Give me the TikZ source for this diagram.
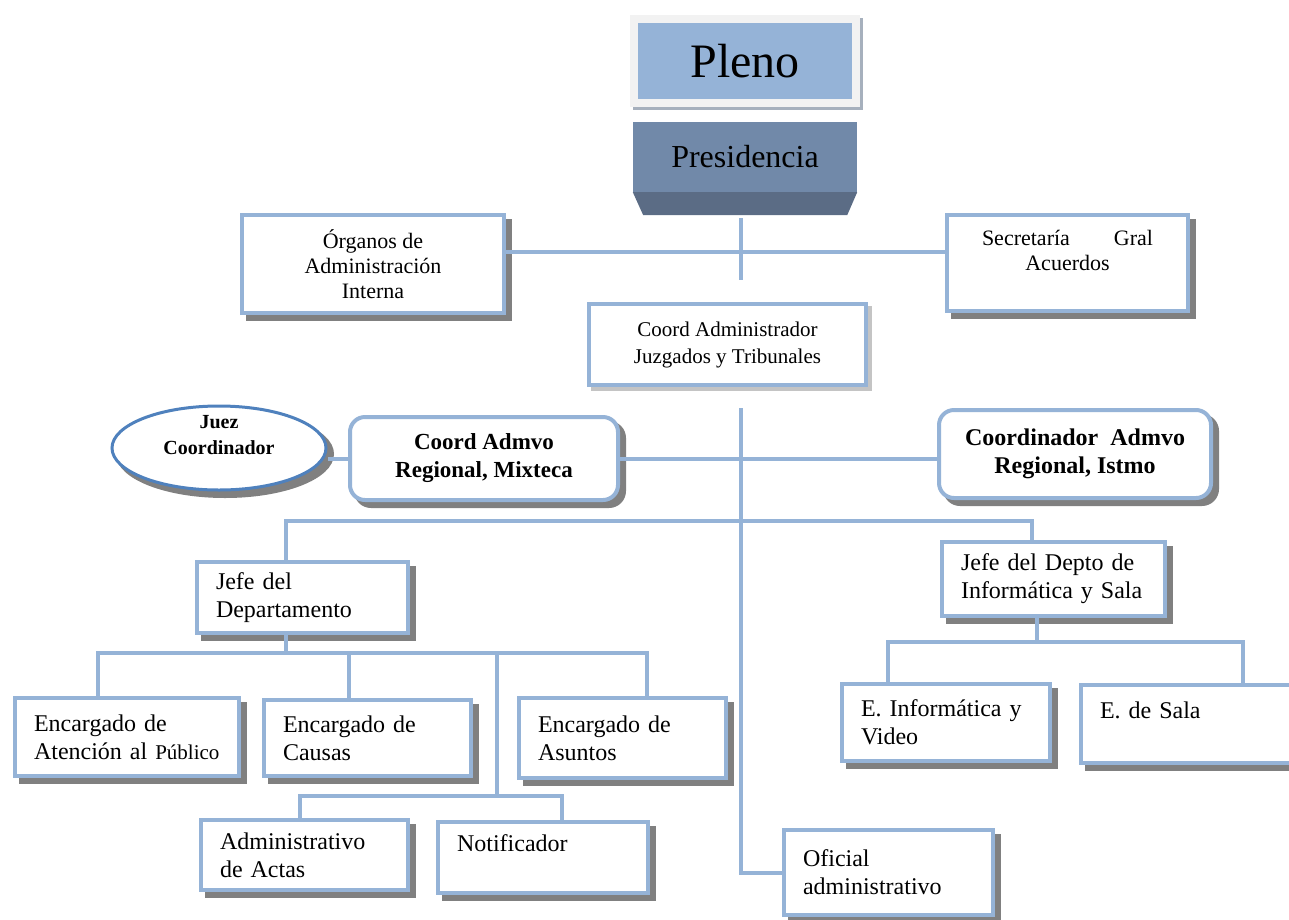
\documentclass[tikz,border=0pt]{standalone}
\usepackage{fontspec}
\setmainfont{Liberation Serif}
\usetikzlibrary{shapes.geometric,shadows}
\definecolor{boxblue}{HTML}{95B3D7}
\definecolor{edgeblue}{HTML}{4F81BD}
\definecolor{shadegray}{HTML}{808080}
\definecolor{lightshade}{HTML}{C4C4C4}
\definecolor{plenoframe}{HTML}{F2F2F2}
\definecolor{plenoshade}{HTML}{A6B0BD}
\definecolor{prestop}{HTML}{7189A9}
\definecolor{presbase}{HTML}{5B6C85}

\begin{document}
\begin{tikzpicture}[x=1pt, y=-1pt,
    link/.style={draw=boxblue, line width=4pt},
    boxshadow/.style={drop shadow={shadow xshift=6pt, shadow yshift=-6pt, fill=shadegray, draw=shadegray, line width=4pt, opacity=1}},
    box/.style={draw=boxblue, line width=4pt, fill=white, inner xsep=19pt, inner ysep=0pt},
    leftbox/.style={box, boxshadow, align=left, font=\fontsize{24}{28}\selectfont},
    midbox/.style={box, boxshadow, align=center, font=\fontsize{22}{25}\selectfont},
    roundbox/.style={box, boxshadow, rounded corners=15pt, align=center, font=\bfseries\fontsize{23}{28}\selectfont},
    admbox/.style={box, align=center, font=\fontsize{21}{27}\selectfont,
      drop shadow={shadow xshift=4pt, shadow yshift=-4pt, fill=lightshade, draw=lightshade, line width=4pt, opacity=1}},
    juezbox/.style={box, boxshadow, ellipse, draw=edgeblue, line width=3pt, inner xsep=0pt, inner ysep=-12pt,
      minimum width=214pt, minimum height=84pt, align=center, font=\bfseries\fontsize{20}{26}\selectfont},
    pleno/.style={fill=boxblue, draw=plenoframe, line width=8pt, minimum width=222pt, minimum height=84pt,
      font=\fontsize{48}{52}\selectfont,
      drop shadow={shadow xshift=3pt, shadow yshift=-3pt, fill=plenoshade, draw=plenoshade, line width=8pt, opacity=1}},
    presbox/.style={fill=prestop, minimum width=224pt, minimum height=70pt, font=\fontsize{32}{36}\selectfont}]
  \useasboundingbox (0,0) rectangle (1289,919);

  \node[pleno] (pleno) at (745,61) {Pleno};
  \node[presbox] (presi) at (745,157) {Presidencia};
  \fill[presbase] (presi.south west) -- (presi.south east) -- ++(-10,23) -- ++(-204,0) -- cycle;

  \node[midbox, minimum width=262pt, minimum height=98pt] (organos) at (373,264) {Órganos de\\Administración\\Interna};
  \node[midbox, minimum width=241pt, minimum height=96pt] (secre) at (1067.5,263) {\makebox[171pt]{Secretaría\hfill Gral}\\Acuerdos\\\mbox{}};
  \node[admbox, minimum width=277pt, minimum height=81pt] (coordadm) at (727.5,344.5) {Coord Administrador\\Juzgados y Tribunales};

  \node[juezbox] (juez) at (219,448) {Juez\\Coordinador\\\mbox{}};
  \node[roundbox, minimum width=268pt, minimum height=83pt] (mixteca) at (484,458.5) {Coord Admvo\\Regional, Mixteca};
  \node[roundbox, font=\bfseries\fontsize{24}{28}\selectfont, minimum width=272pt, minimum height=88pt] (istmo) at (1075,454) {Coordinador~~Admvo\\Regional, Istmo};

  \node[leftbox, text width=173pt, minimum height=71pt] (jefedep) at (302.5,597.5) {Jefe del\\Departamento};
  \node[leftbox, text width=185pt, minimum height=74pt] (jefeinf) at (1053.5,579) {Jefe del Depto de\\Informática~y~Sala};

  \node[leftbox, text width=186pt, minimum height=78pt] (atencion) at (127,737) {Encargado de\\Atención~al~{\fontsize{21}{28}\selectfont Público}};
  \node[leftbox, text width=169pt, minimum height=76pt] (causas) at (367.5,738) {Encargado de\\Causas};
  \node[leftbox, text width=169pt, minimum height=80pt] (asuntos) at (622.5,738) {Encargado de\\Asuntos};
  \node[leftbox, text width=169pt, minimum height=70pt] (actas) at (304.5,855) {Administrativo\\de Actas};
  \node[leftbox, text width=172pt, minimum height=71pt] (notif) at (543,857.5) {Notificador\\\mbox{}};

  \node[leftbox, text width=170pt, minimum height=77pt] (einf) at (946,722.5) {E. Informática~y\\Video};
  \node[leftbox, text width=178pt, minimum height=78pt] (esala) at (1189,724) {E. de Sala\\\mbox{}};
  \node[leftbox, text width=171pt, minimum height=85pt] (oficial) at (888.5,872.5) {Oficial\\administrativo};

  \coordinate (presfoot) at (741,218);
  \coordinate (trunktop) at (741,280);
  \coordinate (hub) at (741,252);
  \coordinate (trunkbot) at (741,408);
  \coordinate (upbus) at (741,521);
  \coordinate (depbus) at (286,653);
  \coordinate (subbus) at (497,796);
  \coordinate (infbus) at (1037,642);

  \draw[link] (presfoot) -- (trunktop);
  \draw[link] (organos.east |- hub) -- (secre.west |- hub);
  \draw[link] (trunkbot) |- (oficial.west);
  \draw[link] (mixteca.west) -- (mixteca.west -| juez.east);
  \draw[link] (mixteca.east) -- (mixteca.east -| istmo.west);
  \draw[link] ([xshift=-16.5pt]jefedep.north) |- (upbus) -| ([xshift=-21.5pt]jefeinf.north);

  \draw[link] ([xshift=-16.5pt]jefedep.south) -- (depbus);
  \draw[link] ([xshift=-29pt]atencion.north) |- (depbus) -| ([xshift=24.5pt]asuntos.north);
  \draw[link] ([xshift=-18.5pt]causas.north) |- (depbus);
  \draw[link] (subbus) |- (depbus);
  \draw[link] ([xshift=-4.5pt]actas.north) |- (subbus) -| ([xshift=19pt]notif.north);

  \draw[link] ([xshift=-16.5pt]jefeinf.south) -- (infbus);
  \draw[link] ([xshift=-58pt]einf.north) |- (infbus) -| ([xshift=54pt]esala.north);
\end{tikzpicture}
\end{document}
